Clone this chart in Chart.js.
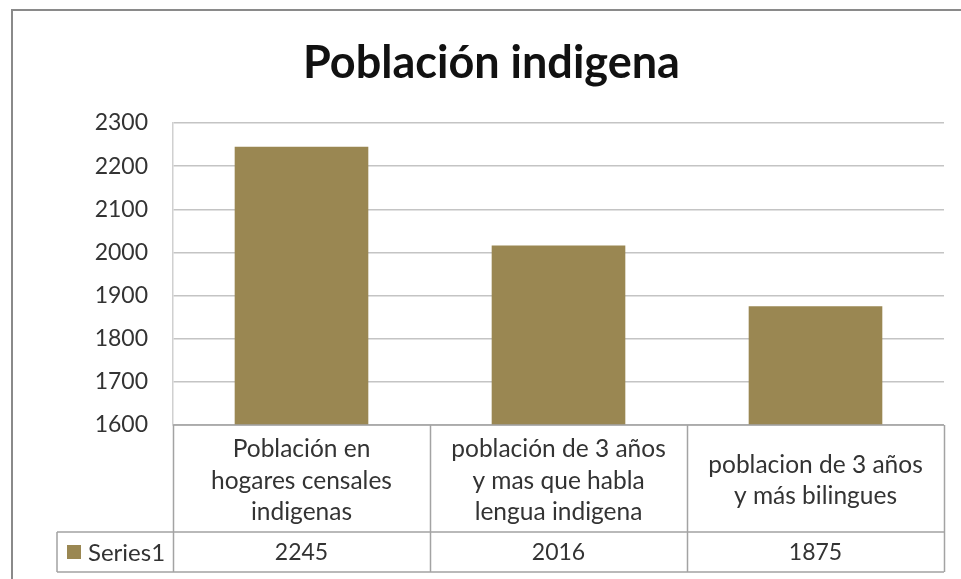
<!DOCTYPE html>
<html>
<head>
<meta charset="utf-8">
<title>Población indigena</title>
<script src="https://cdn.jsdelivr.net/npm/chart.js@4.4.1/dist/chart.umd.min.js"></script>
<style>
  body { margin: 0; background: #fff; }
  canvas { display: block; }
</style>
</head>
<body>
<canvas id="chart" width="961" height="579"></canvas>
<script>
// Chart data
const chartTitle = "Población indigena";
const categories = [
  ["Población en", "hogares censales", "indigenas"],
  ["población de 3 años", "y mas que habla", "lengua indigena"],
  ["poblacion de 3 años", "y más bilingues"],
];
const seriesName = "Series1";
const seriesValues = [2245, 2016, 1875];
const yTickLabels = [1600, 1700, 1800, 1900, 2000, 2100, 2200, 2300];

const barColor = "#9a8752";
const textColor = "#333333";
const lineColor = "#a3a3a3";
const fontFamily = "Lato, 'Open Sans', sans-serif";

// Frame around the chart (Excel style border, top and left edges)
const framePlugin = {
  id: "frame",
  afterDraw(chart) {
    const ctx = chart.ctx;
    ctx.save();
    ctx.strokeStyle = "#8a8a8a";
    ctx.lineWidth = 2;
    ctx.beginPath();
    ctx.moveTo(12, 579);
    ctx.lineTo(12, 10);
    ctx.lineTo(961, 10);
    ctx.stroke();
    ctx.restore();
  },
};

// Data table under the plot area: grid lines, legend key and values
const dataTablePlugin = {
  id: "dataTable",
  afterDraw(chart, args, opts) {
    const { ctx, chartArea, scales } = chart;
    const x = scales.x;
    const n = seriesValues.length;
    const colW = chartArea.width / n;
    const top = chartArea.bottom;
    const rowTop = opts.rowTop;
    const bottom = opts.bottom;
    const left = opts.left;

    ctx.save();
    ctx.strokeStyle = lineColor;
    ctx.lineWidth = 1.5;
    ctx.beginPath();
    // horizontal lines
    ctx.moveTo(chartArea.left, top);
    ctx.lineTo(chartArea.right, top);
    ctx.moveTo(left, rowTop);
    ctx.lineTo(chartArea.right, rowTop);
    ctx.moveTo(left, bottom);
    ctx.lineTo(chartArea.right, bottom);
    // vertical lines
    ctx.moveTo(left, rowTop);
    ctx.lineTo(left, bottom);
    for (let i = 0; i <= n; i++) {
      const px = Math.round(chartArea.left + i * colW) + 0.5;
      ctx.moveTo(px, top);
      ctx.lineTo(px, bottom);
    }
    ctx.stroke();

    // legend key + series name
    const midY = (rowTop + bottom) / 2;
    ctx.fillStyle = barColor;
    ctx.fillRect(left + 10, midY - 7, 14, 14);
    ctx.fillStyle = textColor;
    ctx.font = "24px " + fontFamily;
    ctx.textBaseline = "middle";
    ctx.textAlign = "left";
    ctx.fillText(seriesName, left + 31, midY + 1);

    // values
    ctx.font = "23px " + fontFamily;
    ctx.textAlign = "center";
    seriesValues.forEach((v, i) => {
      ctx.fillText(String(v), x.getPixelForValue(i), midY + 1);
    });
    ctx.restore();
  },
};

new Chart(document.getElementById("chart"), {
  type: "bar",
  data: {
    labels: categories,
    datasets: [
      {
        label: seriesName,
        data: seriesValues,
        backgroundColor: barColor,
        categoryPercentage: 1,
        barPercentage: 0.52,
      },
    ],
  },
  options: {
    responsive: false,
    animation: false,
    layout: {
      padding: { top: 10, left: 39, right: 17, bottom: 0 },
    },
    plugins: {
      legend: { display: false },
      tooltip: { enabled: false },
      title: {
        display: true,
        text: chartTitle,
        color: "#111111",
        font: { family: fontFamily, size: 45, weight: "bold", lineHeight: 1.2 },
        padding: { top: 26, bottom: 33 },
      },
      dataTable: { rowTop: 532, bottom: 572, left: 57 },
    },
    scales: {
      x: {
        grid: { display: false },
        border: { display: false },
        ticks: {
          color: textColor,
          font: { family: fontFamily, size: 24.5, lineHeight: 1.29 },
          padding: 16,
          crossAlign: "center",
          maxRotation: 0,
          autoSkip: false,
        },
        afterFit(scale) {
          scale.height = 154;
        },
      },
      y: {
        min: yTickLabels[0],
        max: yTickLabels[yTickLabels.length - 1],
        grid: { color: "#c4c4c4", lineWidth: 1.5, drawTicks: false },
        border: { display: true, color: "#d0d0d0", width: 1.5 },
        ticks: {
          stepSize: yTickLabels[1] - yTickLabels[0],
          color: textColor,
          font: { family: fontFamily, size: 23 },
          padding: 25,
          callback: (value) => String(value),
        },
        afterFit(scale) {
          scale.width = 134;
        },
      },
    },
  },
  plugins: [framePlugin, dataTablePlugin],
});
</script>
</body>
</html>
